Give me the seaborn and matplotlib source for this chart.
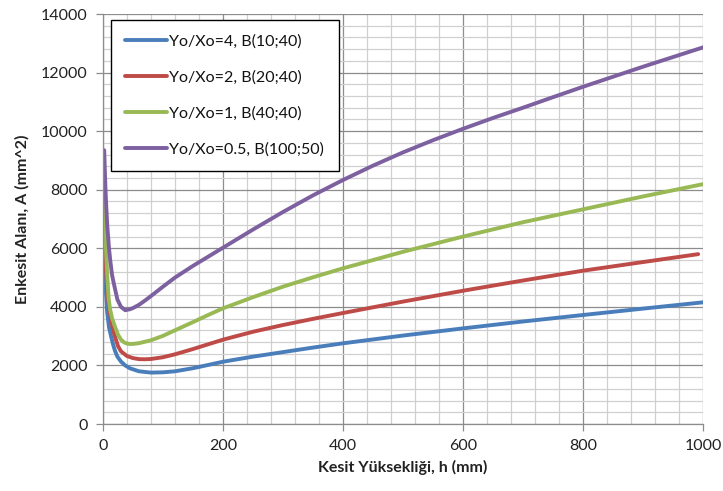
import matplotlib
matplotlib.use("Agg")
import matplotlib.pyplot as plt
import seaborn as sns
import numpy as np
import pandas as pd
from matplotlib.ticker import MultipleLocator

# ---- data ----
h_blue = [2, 4, 7, 10, 14, 17, 20, 24, 30, 37, 45, 60, 80, 100, 120, 150, 175, 200, 250, 300, 350, 400, 500, 600, 700, 800, 900, 1000]
blue = [6000, 4800, 3800, 3300, 2950, 2700, 2500, 2300, 2130, 2000, 1900, 1800, 1755, 1765, 1800, 1905, 2015, 2127, 2300, 2455, 2610, 2755, 3020, 3265, 3500, 3722, 3940, 4155]

h_red = [2, 4, 7, 10, 14, 17, 20, 25, 30, 40, 50, 60, 70, 80, 100, 120, 150, 175, 200, 250, 300, 350, 400, 500, 600, 700, 800, 900, 992]
red = [6800, 5600, 4600, 4000, 3500, 3200, 2980, 2660, 2480, 2320, 2250, 2215, 2210, 2220, 2280, 2380, 2560, 2720, 2880, 3150, 3380, 3590, 3790, 4180, 4550, 4900, 5235, 5530, 5800]

h_green = [2, 3, 5, 7, 9.5, 12, 15, 20, 25, 30, 35, 40, 45, 50, 60, 80, 100, 120, 150, 175, 200, 250, 300, 350, 400, 500, 600, 700, 800, 900, 1000]
green = [7500, 6900, 5950, 5100, 4250, 3900, 3620, 3320, 3050, 2880, 2790, 2745, 2732, 2735, 2760, 2860, 3010, 3200, 3480, 3720, 3950, 4330, 4690, 5010, 5316, 5880, 6400, 6890, 7330, 7770, 8190]

h_purple = [2, 3, 4, 5, 7, 10, 12, 15, 18, 24, 30, 37, 45, 50, 60, 70, 80, 100, 120, 150, 175, 200, 250, 300, 350, 400, 450, 500, 550, 600, 650, 700, 750, 800, 900, 1000]
purple = [9350, 8700, 8100, 7600, 6800, 6000, 5600, 5100, 4800, 4250, 4000, 3885, 3920, 3960, 4070, 4215, 4370, 4690, 5000, 5400, 5710, 6020, 6640, 7240, 7807, 8332, 8822, 9275, 9690, 10080, 10450, 10800, 11160, 11515, 12200, 12860]

labels = ["Yo/Xo=4, B(10;40)", "Yo/Xo=2, B(20;40)", "Yo/Xo=1, B(40;40)", "Yo/Xo=0.5, B(100;50)"]
colors = ["#4A7EBB", "#BE4B48", "#98B954", "#7D60A0"]

x_ticks = [0, 200, 400, 600, 800, 1000]
y_ticks = [0, 2000, 4000, 6000, 8000, 10000, 12000, 14000]

sns.set_theme(style="white")
plt.rcParams['font.family'] = ['Lato', 'DejaVu Sans']

fig = plt.figure(figsize=(7.23, 4.91), dpi=100)
ax = fig.add_axes([103/723, 1-424/491, 600/723, 410/491])

series = [(h_blue, blue), (h_red, red), (h_green, green), (h_purple, purple)]
for (hx, vals), lab, col in zip(series, labels, colors):
    df = pd.DataFrame({"h": hx, "A": vals})
    sns.lineplot(data=df, x="h", y="A", ax=ax, color=col, linewidth=2.8, label=lab, sort=True)

ax.set_xlim(0, 1000)
ax.set_ylim(0, 14000)
ax.set_xticks(x_ticks)
ax.set_yticks(y_ticks)
ax.xaxis.set_minor_locator(MultipleLocator(40))
ax.yaxis.set_minor_locator(MultipleLocator(400))
ax.grid(which="major", color="#8C8C8C", linewidth=0.9)
ax.grid(which="minor", color="#D0D0D0", linewidth=0.9)
ax.set_axisbelow(True)

for s in ["top", "right"]:
    ax.spines[s].set_visible(False)
for s in ["left", "bottom"]:
    ax.spines[s].set_color("#8C8C8C")
    ax.spines[s].set_linewidth(0.9)

ax.tick_params(axis="both", which="major", direction="out", length=5, width=0.9,
               color="#8C8C8C", labelsize=11.5, labelcolor="#222222", pad=6)
ax.tick_params(axis="both", which="minor", length=0)
ax.tick_params(axis="x", bottom=True)
ax.tick_params(axis="y", left=True)

ax.set_xlabel("Kesit Yüksekliği, h (mm)", fontsize=11.5, fontweight="bold", color="#222222", labelpad=5)
ax.set_ylabel("Enkesit Alanı, A (mm^2)", fontsize=11.5, fontweight="bold", color="#222222", labelpad=8)

leg = ax.legend(loc="upper left", bbox_to_anchor=(8/600, 1-6/410), borderaxespad=0,
                fontsize=11.5, frameon=True, fancybox=False, framealpha=1,
                edgecolor="black", handlelength=2.6, handletextpad=0.15,
                labelspacing=1.35, borderpad=0.9)
leg.get_frame().set_linewidth(1.0)
for t in leg.get_texts():
    t.set_color("#111111")

fig.savefig("out.png", dpi=100)
